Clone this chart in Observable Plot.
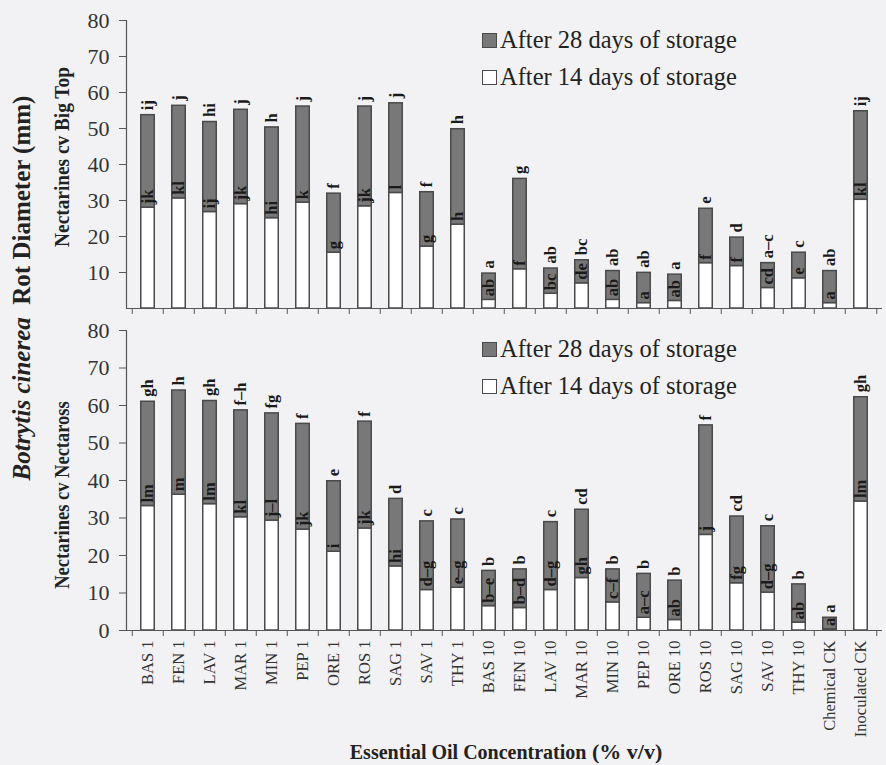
<!DOCTYPE html>
<html>
<head>
<meta charset="utf-8">
<script src="https://cdn.jsdelivr.net/npm/d3@7"></script>
<script src="https://cdn.jsdelivr.net/npm/@observablehq/plot@0.6"></script>
<style>
  html, body { margin: 0; padding: 0; background: #f2f2f4; }
  #wrap { position: relative; width: 886px; height: 765px; background: #f2f2f4; overflow: hidden; font-family: "Liberation Serif", "Times New Roman", serif; color: #222; }
  .abs { position: absolute; white-space: nowrap; }
  .legbox { position: absolute; width: 15px; height: 15px; border: 1.5px solid #4a4a4a; box-sizing: border-box; }
  .legtxt { position: absolute; font-size: 24.5px; line-height: 24px; transform: translateY(-50%); color: #222; white-space: nowrap; }
  svg { position: absolute; left: 0; }
</style>
</head>
<body>
<div id="wrap"></div>
<script>
const categories = ["BAS 1","FEN 1","LAV 1","MAR 1","MIN 1","PEP 1","ORE 1","ROS 1","SAG 1","SAV 1","THY 1",
  "BAS 10","FEN 10","LAV 10","MAR 10","MIN 10","PEP 10","ORE 10","ROS 10","SAG 10","SAV 10","THY 10",
  "Chemical CK","Inoculated CK"];

// Panel 1: Nectarines cv Big Top
const bigTop14 = [28.0,30.6,26.8,29.0,25.1,29.4,15.5,28.4,32.1,17.2,23.3,2.4,10.9,4.1,7.0,2.4,1.5,2.1,12.6,11.8,5.7,8.4,1.5,30.2];
const bigTop28 = [53.7,56.3,51.8,55.2,50.3,56.1,31.9,56.1,57.0,32.3,49.8,9.7,36.0,11.1,13.4,10.4,9.9,9.4,27.7,19.7,12.6,15.5,10.4,54.8];
const bigTopLetters14 = ["jk","kl","ij","jk","hi","k","g","jk","l","g","h","ab","f","bc","de","ab","a","ab","f","f","cd","e","a","kl"];
const bigTopLetters28 = ["ij","j","hi","j","h","j","f","j","j","f","h","a","g","ab","bc","ab","ab","a","e","d","a–c","c","ab","ij"];

// Panel 2: Nectarines cv Nectaross
const nectaross14 = [33.2,36.2,33.7,30.2,29.3,26.9,21.0,27.2,17.1,10.8,11.4,6.5,6.0,10.8,14.0,7.5,3.4,2.8,25.5,12.6,10.1,2.1,0.3,34.4];
const nectaross28 = [61.0,64.0,61.2,58.7,57.9,55.1,39.8,55.7,35.1,29.1,29.6,15.9,16.3,28.9,32.2,16.3,15.1,13.3,54.7,30.4,27.8,12.3,3.4,62.2];
const nectarossLetters14 = ["lm","m","lm","kl","j–l","jk","i","jk","hi","d–g","e–g","b–e","b–d","d–g","gh","c–f","a–c","ab","j","fg","d–g","ab","a","lm"];
const nectarossLetters28 = ["gh","h","gh","f–h","fg","f","e","f","d","c","c","b","b","c","cd","b","b","b","f","cd","c","b","a","gh"];

const topTicks = [10,20,30,40,50,60,70,80];
const bottomTicks = [0,10,20,30,40,50,60,70,80];
const legendLabels = ["After 28 days of storage", "After 14 days of storage"];

const GRAY = "#787878", EDGE = "#4a4a4a";
const wrap = document.getElementById("wrap");

function rowsOf(a14, a28, l14, l28) {
  return categories.map((c, i) => ({cat: c, d14: a14[i], d28: a28[i], l14: l14[i], l28: l28[i]}));
}

function panel({rows, ticks, height, marginTop, marginBottom, showX}) {
  const step = (886 - 126 - 4) / categories.length;
  const inset = (step - 14) / 2;
  return Plot.plot({
    width: 886, height, marginLeft: 126, marginRight: 4, marginTop, marginBottom,
    style: {background: "transparent", fontFamily: "'Liberation Serif', 'Times New Roman', serif", color: "#2a2a2a", overflow: "visible"},
    x: {domain: categories, padding: 0, axis: null},
    y: {domain: [0, 80], axis: null},
    marks: [
      Plot.barY(rows, {x: "cat", y1: 0, y2: "d14", fill: "white", stroke: EDGE, strokeWidth: 1.5, insetLeft: inset, insetRight: inset}),
      Plot.barY(rows, {x: "cat", y1: "d14", y2: "d28", fill: GRAY, stroke: EDGE, strokeWidth: 1.5, insetLeft: inset, insetRight: inset}),
      Plot.text(rows, {x: "cat", y: "d28", text: "l28", rotate: -90, textAnchor: "start", dy: -5, fontWeight: "bold", fontSize: 16.5, fill: "#1a1a1a"}),
      Plot.text(rows, {x: "cat", y: "d14", text: "l14", rotate: -90, textAnchor: "start", dy: -3.5, fontWeight: "bold", fontSize: 16.5, fill: "#1a1a1a"}),
      Plot.ruleY([0], {stroke: "#555", strokeWidth: 1.2}),
      Plot.frame({anchor: "left", stroke: "#555", strokeWidth: 1.2}),
      Plot.ruleX(categories, {x: d => d, y1: 0, y2: 0, insetBottom: -6, dx: -step / 2, stroke: "#555"}),
      Plot.ruleX(categories.slice(-1), {x: d => d, y1: 0, y2: 0, insetBottom: -6, dx: step / 2, stroke: "#555"}),
      Plot.axisY({ticks, tickSize: 7, tickPadding: 10, fontSize: 22, label: null, stroke: "#555", fill: "#333"}),
      showX ? Plot.axisX({tickSize: 0, tickPadding: 10, tickRotate: -90, fontSize: 16.5, label: null, fill: "#333"}) : null
    ]
  });
}

const topPanel = panel({rows: rowsOf(bigTop14, bigTop28, bigTopLetters14, bigTopLetters28), ticks: topTicks, height: 318, marginTop: 20, marginBottom: 10, showX: false});
topPanel.style.top = "0px";
wrap.appendChild(topPanel);

const bottomPanel = panel({rows: rowsOf(nectaross14, nectaross28, nectarossLetters14, nectarossLetters28), ticks: bottomTicks, height: 447, marginTop: 12, marginBottom: 135, showX: true});
bottomPanel.style.top = "318px";
wrap.appendChild(bottomPanel);

// Legends inside each panel
function legend(y28, y14) {
  [[y28, GRAY, legendLabels[0]], [y14, "white", legendLabels[1]]].forEach(([cy, fill, label]) => {
    const b = document.createElement("div");
    b.className = "legbox";
    b.style.left = "482px"; b.style.top = (cy - 7.5) + "px"; b.style.background = fill;
    wrap.appendChild(b);
    const t = document.createElement("div");
    t.className = "legtxt";
    t.style.left = "500px"; t.style.top = cy + "px";
    t.textContent = label;
    wrap.appendChild(t);
  });
}
legend(40, 77);
legend(349, 386);

// Axis titles
function addText(html, css) {
  const d = document.createElement("div");
  d.className = "abs";
  d.innerHTML = html;
  Object.assign(d.style, css);
  wrap.appendChild(d);
  return d;
}
addText("<i>Botrytis cinerea</i>&nbsp; Rot Diameter (mm)", {left: "22px", top: "288px", fontSize: "25px", fontWeight: "bold", transform: "translate(-50%,-50%) rotate(-90deg)"});
addText("Nectarines cv Big Top", {left: "62px", top: "157px", fontSize: "21px", fontWeight: "bold", transform: "translate(-50%,-50%) rotate(-90deg) scaleX(0.92)"});
addText("Nectarines cv Nectaross", {left: "62px", top: "495px", fontSize: "21px", fontWeight: "bold", transform: "translate(-50%,-50%) rotate(-90deg) scaleX(0.88)"});
addText('<span style="font-size:20px">Essential Oil Concentration</span><span style="font-size:22px"> (% v/v)</span>',
  {left: "506px", top: "752px", fontWeight: "bold", transform: "translate(-50%,-50%)"});
</script>
</body>
</html>
